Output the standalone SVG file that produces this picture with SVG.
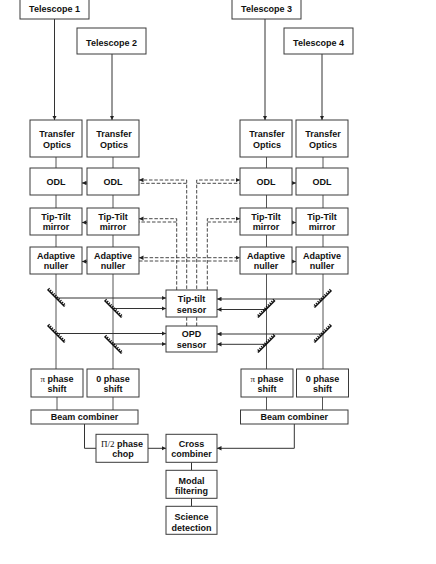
<svg xmlns="http://www.w3.org/2000/svg" width="436" height="564" viewBox="0 0 436 564">
<style>
.box{fill:#fff;stroke:#3a3a3a;stroke-width:1}
.t{font-family:"Liberation Sans",Arial,sans-serif;font-weight:bold;font-size:9px;text-anchor:middle;fill:#111}
.sf{font-family:"Liberation Serif","Times New Roman",serif;font-weight:normal}
.ln{stroke:#333;stroke-width:1;fill:none}
.col{stroke:#555;stroke-width:1;fill:none}
.dash{stroke:#333;stroke-width:0.9;stroke-dasharray:3.5,1.8;fill:none}
</style>
<defs>
<marker id="ah" viewBox="0 0 6 6" refX="6" refY="3" markerWidth="4.5" markerHeight="4.5" orient="auto-start-reverse" markerUnits="userSpaceOnUse"><path d="M0,0 L6,3 L0,6 z" fill="#222"/></marker>
<g id="mir">
<line x1="-8.5" y1="-8.5" x2="8.5" y2="8.5" stroke="#111" stroke-width="1.4"/>
<line x1="-7.6" y1="-9.4" x2="9.4" y2="7.6" stroke="#111" stroke-width="2.2" stroke-dasharray="1.2,1.2"/>
</g>
</defs>
<rect width="436" height="564" fill="#fff"/>

<g id="connectors">
<!-- telescope arrows -->
<path class="ln" d="M54.5,19 V120" marker-end="url(#ah)"/>
<path class="ln" d="M112,54 V120" marker-end="url(#ah)"/>
<path class="ln" d="M265,19 V120" marker-end="url(#ah)"/>
<path class="ln" d="M322,54 V120" marker-end="url(#ah)"/>
<!-- column lines -->
<path class="col" d="M56,157 V168 M56,195 V208 M56,235 V247 M56,274 V369"/>
<path class="col" d="M113,157 V168 M113,195 V208 M113,235 V247 M113,274 V369"/>
<path class="col" d="M266.5,157 V168 M266.5,195 V208 M266.5,235 V247 M266.5,274 V369"/>
<path class="col" d="M323,157 V168 M323,195 V208 M323,235 V247 M323,274 V369"/>
<path class="col" d="M57,397 V410 M113,397 V410 M266.5,397 V410 M322.5,397 V410"/>
<!-- between boxes -->
<path class="ln" d="M87,183 H82" marker-end="url(#ah)"/>
<path class="ln" d="M87,222.5 H82" marker-end="url(#ah)"/>
<path class="ln" d="M87,261.5 H82" marker-end="url(#ah)"/>
<path class="ln" d="M292,183 H296" marker-end="url(#ah)"/>
<path class="ln" d="M292,222.5 H296" marker-end="url(#ah)"/>
<path class="ln" d="M292,261.5 H296" marker-end="url(#ah)"/>
<!-- dashed control lines -->
<path class="dash" d="M186.7,326 V180 H139" marker-end="url(#ah)"/>
<path class="dash" d="M186.7,183.3 H139"/>
<path class="dash" d="M196.7,326 V180 H240" marker-end="url(#ah)"/>
<path class="dash" d="M196.7,183.3 H240"/>
<path class="dash" d="M176.7,290 V218.7 H139" marker-end="url(#ah)"/>
<path class="dash" d="M176.7,222 H139"/>
<path class="dash" d="M207.3,290 V218.7 H240" marker-end="url(#ah)"/>
<path class="dash" d="M207.3,222 H240"/>
<path class="dash" d="M139,257.7 H240" marker-start="url(#ah)" marker-end="url(#ah)"/>
<path class="dash" d="M139,261 H240"/>
<!-- sensor feeds -->
<path class="ln" d="M56,298 H166" marker-end="url(#ah)"/>
<path class="ln" d="M113,308.5 H166" marker-end="url(#ah)"/>
<path class="ln" d="M56,333.5 H166" marker-end="url(#ah)"/>
<path class="ln" d="M113,344 H166" marker-end="url(#ah)"/>
<path class="ln" d="M323,299 H217" marker-end="url(#ah)"/>
<path class="ln" d="M266.5,309.5 H217" marker-end="url(#ah)"/>
<path class="ln" d="M323,334 H217" marker-end="url(#ah)"/>
<path class="ln" d="M266.5,344.3 H217" marker-end="url(#ah)"/>
<!-- bottom -->
<path class="ln" d="M84.5,424 V448.3 H96"/>
<path class="ln" d="M148,448.3 H166" marker-end="url(#ah)"/>
<path class="ln" d="M294.3,424 V448.3 H217" marker-end="url(#ah)"/>
<path class="ln" d="M191.5,462.3 V470.3 M191.5,498.3 V506.3"/>
</g>

<g id="mirrors">
<use href="#mir" transform="translate(56,298)"/>
<use href="#mir" transform="translate(56,334)"/>
<use href="#mir" transform="translate(113,309)"/>
<use href="#mir" transform="translate(113,345)"/>
<use href="#mir" transform="translate(323,299) scale(-1,1)"/>
<use href="#mir" transform="translate(323,334) scale(-1,1)"/>
<use href="#mir" transform="translate(266.5,309) scale(-1,1)"/>
<use href="#mir" transform="translate(266.5,344) scale(-1,1)"/>
</g>

<g id="telescope1"><rect class="box" x="20" y="-7" width="69" height="26"/><text class="t" x="54.5" y="11.5">Telescope 1</text></g>
<g id="telescope2"><rect class="box" x="77" y="28" width="69" height="26"/><text class="t" x="111.5" y="46">Telescope 2</text></g>
<g id="telescope3"><rect class="box" x="232" y="-7" width="69" height="26"/><text class="t" x="266.5" y="11.5">Telescope 3</text></g>
<g id="telescope4"><rect class="box" x="284" y="28" width="69" height="26"/><text class="t" x="318.5" y="46">Telescope 4</text></g>

<g id="to1"><rect class="box" x="30" y="120" width="52" height="37"/><text class="t" x="57" y="137">Transfer</text><text class="t" x="57" y="147.5">Optics</text></g>
<g id="to2"><rect class="box" x="87" y="120" width="52" height="37"/><text class="t" x="114" y="137">Transfer</text><text class="t" x="114" y="147.5">Optics</text></g>
<g id="to3"><rect class="box" x="240" y="120" width="52" height="37"/><text class="t" x="267" y="137">Transfer</text><text class="t" x="267" y="147.5">Optics</text></g>
<g id="to4"><rect class="box" x="296" y="120" width="52" height="37"/><text class="t" x="323" y="137">Transfer</text><text class="t" x="323" y="147.5">Optics</text></g>

<g id="odl1"><rect class="box" x="30" y="168" width="52" height="27"/><text class="t" x="56" y="185">ODL</text></g>
<g id="odl2"><rect class="box" x="87" y="168" width="52" height="27"/><text class="t" x="113" y="185">ODL</text></g>
<g id="odl3"><rect class="box" x="240" y="168" width="52" height="27"/><text class="t" x="266" y="185">ODL</text></g>
<g id="odl4"><rect class="box" x="296" y="168" width="52" height="27"/><text class="t" x="322" y="185">ODL</text></g>

<g id="tt1"><rect class="box" x="30" y="208" width="52" height="27"/><text class="t" x="56" y="220">Tip-Tilt</text><text class="t" x="56" y="230">mirror</text></g>
<g id="tt2"><rect class="box" x="87" y="208" width="52" height="27"/><text class="t" x="113" y="220">Tip-Tilt</text><text class="t" x="113" y="230">mirror</text></g>
<g id="tt3"><rect class="box" x="240" y="208" width="52" height="27"/><text class="t" x="266" y="220">Tip-Tilt</text><text class="t" x="266" y="230">mirror</text></g>
<g id="tt4"><rect class="box" x="296" y="208" width="52" height="27"/><text class="t" x="322" y="220">Tip-Tilt</text><text class="t" x="322" y="230">mirror</text></g>

<g id="an1"><rect class="box" x="30" y="247" width="52" height="27"/><text class="t" x="56" y="259.3">Adaptive</text><text class="t" x="56" y="269.3">nuller</text></g>
<g id="an2"><rect class="box" x="87" y="247" width="52" height="27"/><text class="t" x="113" y="259.3">Adaptive</text><text class="t" x="113" y="269.3">nuller</text></g>
<g id="an3"><rect class="box" x="240" y="247" width="52" height="27"/><text class="t" x="266" y="259.3">Adaptive</text><text class="t" x="266" y="269.3">nuller</text></g>
<g id="an4"><rect class="box" x="296" y="247" width="52" height="27"/><text class="t" x="322" y="259.3">Adaptive</text><text class="t" x="322" y="269.3">nuller</text></g>

<g id="tiptilt-sensor"><rect class="box" x="166" y="290" width="51" height="27"/><text class="t" x="191.5" y="302.3">Tip-tilt</text><text class="t" x="191.5" y="312.5">sensor</text></g>
<g id="opd-sensor"><rect class="box" x="166" y="326" width="51" height="26"/><text class="t" x="191.5" y="337.3">OPD</text><text class="t" x="191.5" y="347.5">sensor</text></g>

<g id="ps1"><rect class="box" x="31" y="369" width="52" height="28"/><text class="t" x="57" y="381.5"><tspan class="sf">π</tspan> phase</text><text class="t" x="57" y="391.5">shift</text></g>
<g id="ps2"><rect class="box" x="87" y="369" width="52" height="28"/><text class="t" x="113" y="381.5">0 phase</text><text class="t" x="113" y="391.5">shift</text></g>
<g id="ps3"><rect class="box" x="241" y="369" width="52" height="28"/><text class="t" x="267" y="381.5"><tspan class="sf">π</tspan> phase</text><text class="t" x="267" y="391.5">shift</text></g>
<g id="ps4"><rect class="box" x="296.5" y="369" width="52" height="28"/><text class="t" x="322.5" y="381.5">0 phase</text><text class="t" x="322.5" y="391.5">shift</text></g>

<g id="bc1"><rect class="box" x="31" y="410" width="107" height="14"/><text class="t" x="84.5" y="420">Beam combiner</text></g>
<g id="bc2"><rect class="box" x="240.5" y="410" width="107.5" height="14"/><text class="t" x="294.3" y="420">Beam combiner</text></g>

<g id="chop"><rect class="box" x="96" y="434.3" width="52" height="28"/><text class="t" x="122" y="446.5"><tspan class="sf">Π/2</tspan> phase</text><text class="t" x="123" y="457.3">chop</text></g>
<g id="cross"><rect class="box" x="166" y="434.3" width="51" height="28"/><text class="t" x="191.5" y="446.5">Cross</text><text class="t" x="191.5" y="457.3">combiner</text></g>
<g id="modal"><rect class="box" x="166" y="470.3" width="51" height="28"/><text class="t" x="191.5" y="484">Modal</text><text class="t" x="191.5" y="494.3">filtering</text></g>
<g id="science"><rect class="box" x="166" y="506.3" width="51" height="28"/><text class="t" x="191.5" y="520">Science</text><text class="t" x="191.5" y="530.5">detection</text></g>
</svg>
